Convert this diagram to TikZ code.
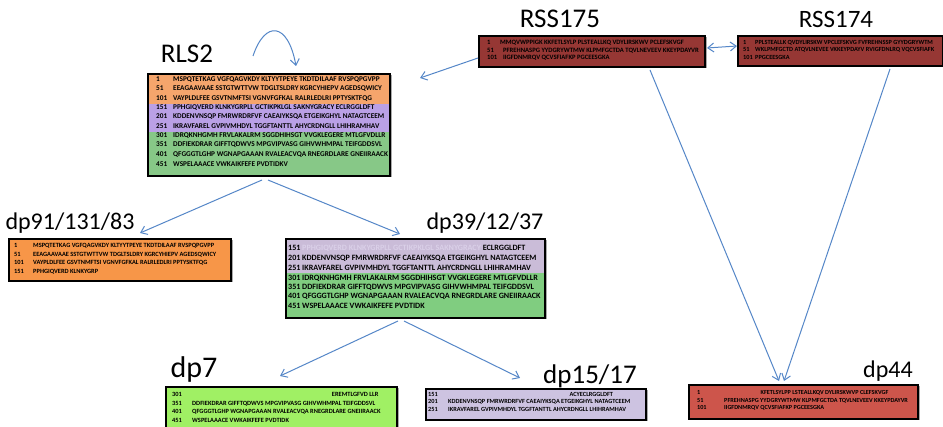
\documentclass[tikz,border=0pt]{standalone}
\usepackage{fontspec}
\setmainfont{Carlito}
\usetikzlibrary{arrows.meta}
\definecolor{orA}{RGB}{245,165,108}
\definecolor{orB}{RGB}{247,150,72}
\definecolor{puA}{RGB}{186,160,230}
\definecolor{grA}{RGB}{135,200,135}
\definecolor{puB}{RGB}{202,188,216}
\definecolor{puBt}{RGB}{218,208,232}
\definecolor{grB}{RGB}{128,205,128}
\definecolor{grC}{RGB}{160,240,100}
\definecolor{puC}{RGB}{205,195,225}
\definecolor{rdA}{RGB}{150,55,52}
\definecolor{rdB}{RGB}{205,85,75}
\definecolor{arr}{RGB}{85,135,200}
\definecolor{shd}{RGB}{170,170,170}
\tikzset{
  frame/.style={draw=black, line width=1.6pt, inner sep=0pt, anchor=north west},
  lbl/.style={font=\fontsize{24}{28}\selectfont, inner sep=0pt},
  conn/.style={draw=arr, line width=1pt, -{Straight Barb[length=6pt,width=9pt]}},
  conn2/.style={draw=arr, line width=1pt, {Straight Barb[length=6pt,width=9pt]}-{Straight Barb[length=6pt,width=9pt]}},
  rowstyle/.style={font=\bfseries\fontsize{7}{8}\selectfont}
}
\newcommand\srow[6]{\node[rowstyle, inner sep=0pt, anchor=west] (#1) at (#2,#3) {\makebox[#4pt][l]{#5}#6};}
\begin{document}
\begin{tikzpicture}[x=1pt,y=-1pt]
\useasboundingbox (0,0) rectangle (943,427);
\fill[white] (0,0) rectangle (943,427);

% ---------- shadows ----------
\fill[shd] (149.5,75.5) rectangle (391.5,177.5);
\fill[shd] (480.5,37.5) rectangle (706.5,68.5);
\fill[shd] (10.5,240.5) rectangle (232.5,282.5);
\fill[shd] (287.5,240.5) rectangle (546.5,319.5);
\fill[shd] (167.5,388.5) rectangle (398.5,430);
\fill[shd] (427.5,390.5) rectangle (647.5,421.5);
\fill[shd] (690.5,386.5) rectangle (919.5,420.5);

% ---------- RLS2 ----------
\fill[orA] (147,73) rectangle (389,104);
\fill[puA] (147,104) rectangle (389,132);
\fill[grA] (147,132) rectangle (389,175);
\node[frame, minimum width=242pt, minimum height=102pt] (rls2) at (147,73) {};
\node[lbl, font=\fontsize{27}{30}\selectfont] (rls2l) at (187,54) {RLS2};
\begin{scope}[rowstyle/.style={font=\bfseries\fontsize{7.3}{8}\selectfont}]
\srow{r1}{156}{80}{17}{1}{MSPQTETKAG VGFQAGVKDY KLTYYTPEYE TKDTDILAAF RVSPQPGVPP}
\srow{r2}{156}{89}{17}{51}{EEAGAAVAAE SSTGTWTTVW TDGLTSLDRY KGRCYHIEPV AGEDSQWICY}
\srow{r3}{156}{98.5}{17}{101}{VAYPLDLFEE GSVTNMFTSI VGNVFGFKAL RALRLEDLRI PPTYSKTFQG}
\srow{r4}{156}{108}{17}{151}{PPHGIQVERD KLNKYGRPLL GCTIKPKLGL SAKNYGRACY ECLRGGLDFT}
\srow{r5}{156}{117}{17}{201}{KDDENVNSQP FMRWRDRFVF CAEAIYKSQA ETGEIKGHYL NATAGTCEEM}
\srow{r6}{156}{126.5}{17}{251}{IKRAVFAREL GVPIVMHDYL TGGFTANTTL AHYCRDNGLL LHIHRAMHAV}
\srow{r7}{156}{136}{17}{301}{IDRQKNHGMH FRVLAKALRM SGGDHIHSGT VVGKLEGERE MTLGFVDLLR}
\srow{r8}{156}{145}{17}{351}{DDFIEKDRAR GIFFTQDWVS MPGVIPVASG GIHVWHMPAL TEIFGDDSVL}
\srow{r9}{156}{154.5}{17}{401}{QFGGGTLGHP WGNAPGAAAN RVALEACVQA RNEGRDLARE GNEIIRAACK}
\srow{r10}{156}{164}{17}{451}{WSPELAAACE VWKAIKFEFE PVDTIDKV}
\end{scope}

% ---------- RSS175 ----------
\fill[rdA] (478,35) rectangle (704,66);
\node[frame, minimum width=226pt, minimum height=31pt] (rss175) at (478,35) {};
\node[lbl, font=\fontsize{27}{30}\selectfont] (rss175l) at (560,19) {RSS175};
\begin{scope}[rowstyle/.style={font=\bfseries\fontsize{6.6}{7}\selectfont}]
\srow{s1}{487}{43}{13}{1}{MMQVWPPIGK KKFETLSYLP PLSTEALLKQ VDYLIRSKWV PCLEFSKVGF}
\srow{s2}{487}{50.5}{16}{51}{PFREHNASPG YYDGRYWTMW KLPMFGCTDA TQVLNEVEEV KKEYPDAYVR}
\srow{s3}{487}{58}{16}{101}{IIGFDNMRQV QCVSFIAFKP PGCEESGKA}
\end{scope}

% ---------- RSS174 ----------
\fill[rdA] (737,35) rectangle (942,65);
\node[frame, minimum width=205pt, minimum height=30pt] (rss174) at (737,35) {};
\node[lbl, font=\fontsize{25}{28}\selectfont] (rss174l) at (836,19) {RSS174};
\begin{scope}[rowstyle/.style={font=\bfseries\fontsize{6.3}{7}\selectfont}]
\srow{t1}{743}{43}{12}{1}{PPLSTEALLK QVDYLIRSKW VPCLEFSKVG FVFREHNSSP GYYDGRYWTM}
\srow{t2}{743}{50}{12}{51}{WKLPMFGCTD ATQVLNEVEE VKKEYPDAYV RVIGFDNLRQ VQCVSFIAFK}
\srow{t3}{743}{57.5}{12}{101}{PPGCEESGKA}
\end{scope}

% ---------- dp91/131/83 ----------
\fill[orB] (8,238) rectangle (230,280);
\node[frame, minimum width=222pt, minimum height=42pt] (dp91) at (8,238) {};
\node[lbl] (dp91l) at (70,223) {dp91/131/83};
\begin{scope}[rowstyle/.style={font=\bfseries\fontsize{6.4}{7}\selectfont}]
\srow{u1}{14}{246}{19}{1}{MSPQTETKAG VGFQAGVKDY KLTYYTPEYE TKDTDILAAF RVSPQPGVPP}
\srow{u2}{14}{254.5}{19}{51}{EEAGAAVAAE SSTGTWTTVW TDGLTSLDRY KGRCYHIEPV AGEDSQWICY}
\srow{u3}{14}{263}{19}{101}{VAYPLDLFEE GSVTNMFTSI VGNVFGFKAL RALRLEDLRI PPTYSKTFQG}
\srow{u4}{14}{271.5}{19}{151}{PPHGIQVERD KLNKYGRP}
\end{scope}

% ---------- dp39/12/37 ----------
\fill[puB] (285,238) rectangle (544,273);
\fill[grB] (285,273) rectangle (544,317);
\node[frame, minimum width=259pt, minimum height=79pt] (dp39) at (285,238) {};
\node[lbl] (dp39l) at (485,223) {dp39/12/37};
\begin{scope}[rowstyle/.style={font=\bfseries\fontsize{8.1}{9}\selectfont}]
\srow{v1}{288}{248}{14}{151}{\textcolor{puBt}{PPHGIQVERD KLNKYGRPLL GCTIKPKLGL SAKNYGRACY} ECLRGGLDFT}
\srow{v2}{288}{258}{14}{201}{KDDENVNSQP FMRWRDRFVF CAEAIYKSQA ETGEIKGHYL NATAGTCEEM}
\srow{v3}{288}{268}{14}{251}{IKRAVFAREL GVPIVMHDYL TGGFTANTTL AHYCRDNGLL LHIHRAMHAV}
\srow{v4}{288}{278}{14}{301}{IDRQKNHGMH FRVLAKALRM SGGDHIHSGT VVGKLEGERE MTLGFVDLLR}
\srow{v5}{288}{287}{14}{351}{DDFIEKDRAR GIFFTQDWVS MPGVIPVASG GIHVWHMPAL TEIFGDDSVL}
\srow{v6}{288}{296.5}{14}{401}{QFGGGTLGHP WGNAPGAAAN RVALEACVQA RNEGRDLARE GNEIIRAACK}
\srow{v7}{288}{306}{14}{451}{WSPELAAACE VWKAIKFEFE PVDTIDK}
\end{scope}

% ---------- dp7 ----------
\fill[grC] (165,386) rectangle (396,430);
\node[frame, minimum width=231pt, minimum height=44pt] (dp7) at (165,386) {};
\node[lbl, font=\fontsize{30}{32}\selectfont] (dp7l) at (194,370) {dp7};
\begin{scope}[rowstyle/.style={font=\bfseries\fontsize{6.4}{7}\selectfont}]
\srow{w1}{172}{395}{20}{301}{\phantom{IDRQKNHGMH FRVLAKALRM SGGDHIHSGT VVGKLEG}EREMTLGFVD LLR}
\srow{w2}{172}{403.5}{20}{351}{DDFIEKDRAR GIFFTQDWVS MPGVIPVASG GIHVWHMPAL TEIFGDDSVL}
\srow{w3}{172}{412}{20}{401}{QFGGGTLGHP WGNAPGAAAN RVALEACVQA RNEGRDLARE GNEIIRAACK}
\srow{w4}{172}{420.5}{20}{451}{WSPELAAACE VWKAIKFEFE PVDTIDK}
\end{scope}

% ---------- dp15/17 ----------
\fill[puC] (425,388) rectangle (645,419);
\node[frame, minimum width=220pt, minimum height=31pt] (dp15) at (425,388) {};
\node[lbl, font=\fontsize{27}{30}\selectfont] (dp15l) at (590,376) {dp15/17};
\begin{scope}[rowstyle/.style={font=\bfseries\fontsize{6.3}{7}\selectfont}]
\srow{x1}{428}{395}{20}{151}{\phantom{PPHGIQVERD KLNKYGRPLL GCTIKPKLGL SAKNY}ACYECLRGGLDFT}
\srow{x2}{428}{402}{20}{201}{KDDENVNSQP FMRWRDRFVF CAEAIYKSQA ETGEIKGHYL NATAGTCEEM}
\srow{x3}{428}{409}{20}{251}{IKRAVFAREL GVPIVMHDYL TGGFTANTTL AHYCRDNGLL LHIHRAMHAV}
\end{scope}

% ---------- dp44 ----------
\fill[rdB] (688,384) rectangle (917,418);
\node[frame, minimum width=229pt, minimum height=34pt] (dp44) at (688,384) {};
\node[lbl] (dp44l) at (888,371) {dp44};
\begin{scope}[rowstyle/.style={font=\bfseries\fontsize{6.2}{7}\selectfont}]
\srow{y1}{697}{393}{27}{1}{\phantom{MMQVWPPIG}KFETLSYLPP LSTEALLKQV DYLIRSKWVP CLEFSKVGF}
\srow{y2}{697}{400.5}{27}{51}{PFREHNASPG YYDGRYWTMW KLPMFGCTDA TQVLNEVEEV KKEYPDAYVR}
\srow{y3}{697}{408}{27}{101}{IIGFDNMRQV QCVSFIAFKP PGCEESGKA}
\end{scope}

% ---------- connector end points ----------
\coordinate (loopA) at (253,56);
\coordinate (loopB) at (296,66);
\coordinate (rlsA) at (262,180);
\coordinate (rlsB) at (268,180);
\coordinate (dp91t) at (140,233);
\coordinate (dp39t) at (400,234);
\coordinate (dp39a) at (398,321);
\coordinate (dp39b) at (404,321);
\coordinate (dp7t) at (280,376);
\coordinate (dp15t) at (520,378);
\coordinate (rssA) at (478,58);
\coordinate (rlsR) at (420,78);
\coordinate (rssR) at (707,48);
\coordinate (rssL) at (737,46);
\coordinate (rssB) at (650,70);
\coordinate (rss4B) at (890,69);
\coordinate (dp44a) at (779,381);
\coordinate (dp44b) at (784,381);

% ---------- connectors ----------
\draw[conn] (loopA) .. controls (265,20) and (288,22) .. (loopB);
\draw[conn] (rlsA) -- (dp91t);
\draw[conn] (rlsB) -- (dp39t);
\draw[conn] (dp39a) -- (dp7t);
\draw[conn] (dp39b) -- (dp15t);
\draw[conn] (rssA) -- (rlsR);
\draw[conn2] (rssR) -- (rssL);
\draw[conn] (rssB) -- (dp44a);
\draw[conn] (rss4B) -- (dp44b);
\end{tikzpicture}
\end{document}
